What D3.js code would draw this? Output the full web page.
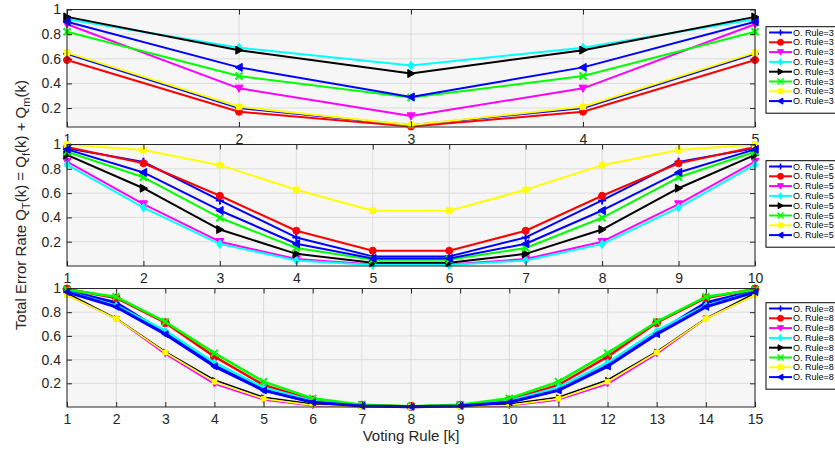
<!DOCTYPE html>
<html>
<head>
<meta charset="utf-8">
<script src="https://d3js.org/d3.v7.min.js"></script>
<style>
body { margin: 0; background: #fff; }
text { font-family: "Liberation Sans", Arial, sans-serif; }
</style>
</head>
<body>
<div id="mainer"></div>
<script>
let width = 835, height = 450;

// series look (same order in all three panels)
let colors = ['#0000ff', '#ff0000', '#ff00ff', '#00ffff', '#000000', '#00ff00', '#ffff00', '#0000ff'];
let markers = ['+', 'o', 'v', 'd', '>', 'x', 's', '<'];

let yTicks = [0.2, 0.4, 0.6, 0.8, 1];

// panel 1 : O. Rule=3
let k3 = [1, 2, 3, 4, 5];
let rule3 = [
  [0.64, 0.20, 0.060, 0.20, 0.64],
  [0.59, 0.17, 0.050, 0.17, 0.59],
  [0.88, 0.36, 0.135, 0.36, 0.88],
  [0.92, 0.69, 0.545, 0.69, 0.92],
  [0.94, 0.67, 0.480, 0.67, 0.94],
  [0.82, 0.46, 0.285, 0.46, 0.82],
  [0.65, 0.21, 0.063, 0.21, 0.65],
  [0.90, 0.53, 0.290, 0.53, 0.90]
];
let legend3 = ['O. Rule=3', 'O. Rule=3', 'O. Rule=3', 'O. Rule=3', 'O. Rule=3', 'O. Rule=3', 'O. Rule=3', 'O. Rule=3'];

// panel 2 : O. Rule=5
let k5 = [1, 2, 3, 4, 5, 6, 7, 8, 9, 10];
let rule5 = [
  [0.970, 0.857, 0.540, 0.235, 0.079, 0.079, 0.235, 0.540, 0.857, 0.970],
  [0.980, 0.846, 0.578, 0.290, 0.126, 0.126, 0.290, 0.578, 0.846, 0.980],
  [0.860, 0.510, 0.200, 0.057, 0.012, 0.012, 0.057, 0.200, 0.510, 0.860],
  [0.835, 0.480, 0.180, 0.046, 0.008, 0.008, 0.046, 0.180, 0.480, 0.835],
  [0.915, 0.640, 0.300, 0.100, 0.027, 0.027, 0.100, 0.300, 0.640, 0.915],
  [0.940, 0.730, 0.397, 0.148, 0.052, 0.052, 0.148, 0.397, 0.730, 0.940],
  [1.000, 0.955, 0.830, 0.627, 0.455, 0.455, 0.627, 0.830, 0.955, 1.000],
  [0.960, 0.770, 0.457, 0.183, 0.062, 0.062, 0.183, 0.457, 0.770, 0.960]
];
let legend5 = ['O. Rule=5', 'O. Rule=5', 'O. Rule=5', 'O. Rule=5', 'O. Rule=5', 'O. Rule=5', 'O. Rule=5', 'O. Rule=5'];

// panel 3 : O. Rule=8
let k8 = [1, 2, 3, 4, 5, 6, 7, 8, 9, 10, 11, 12, 13, 14, 15];
let rule8 = [
  [0.980, 0.880, 0.625, 0.350, 0.145, 0.042, 0.010, 0.003, 0.010, 0.042, 0.145, 0.350, 0.625, 0.880, 0.980],
  [0.996, 0.920, 0.711, 0.425, 0.186, 0.059, 0.015, 0.005, 0.015, 0.059, 0.186, 0.425, 0.711, 0.920, 0.996],
  [0.945, 0.745, 0.447, 0.194, 0.060, 0.010, 0.002, 0.001, 0.002, 0.010, 0.060, 0.194, 0.447, 0.745, 0.945],
  [0.975, 0.855, 0.644, 0.374, 0.165, 0.050, 0.012, 0.004, 0.012, 0.050, 0.165, 0.374, 0.644, 0.855, 0.975],
  [0.960, 0.748, 0.467, 0.228, 0.082, 0.025, 0.005, 0.001, 0.005, 0.025, 0.082, 0.228, 0.467, 0.748, 0.960],
  [0.990, 0.930, 0.720, 0.455, 0.214, 0.073, 0.020, 0.006, 0.020, 0.073, 0.214, 0.455, 0.720, 0.930, 0.990],
  [0.945, 0.745, 0.460, 0.214, 0.070, 0.015, 0.003, 0.001, 0.003, 0.015, 0.070, 0.214, 0.460, 0.745, 0.945],
  [0.970, 0.845, 0.615, 0.343, 0.140, 0.040, 0.009, 0.003, 0.009, 0.040, 0.140, 0.343, 0.615, 0.845, 0.970]
];
let legend8 = ['O. Rule=8', 'O. Rule=8', 'O. Rule=8', 'O. Rule=8', 'O. Rule=8', 'O. Rule=8', 'O. Rule=8', 'O. Rule=8'];

let panels = [
  {k: k3, data: rule3, names: legend3, top: 9.5, bottom: 127, ymin: 0.046, legendTop: 26.7,
   widths: [2, 2, 2, 2, 2, 2, 2, 2], msize: [4, 3.5, 4, 4, 4, 3.5, 3.5, 4]},
  {k: k5, data: rule5, names: legend5, top: 144.5, bottom: 266, ymin: 0, legendTop: 160.7,
   widths: [2, 2, 2, 2, 2, 2, 2, 2], msize: [4, 3.5, 4, 4, 4, 3.5, 3.5, 4]},
  {k: k8, data: rule8, names: legend8, top: 288.5, bottom: 407, ymin: 0, legendTop: 302.7,
   widths: [3, 2.5, 1.5, 2.5, 1.5, 2.5, 1.5, 3], msize: [3.5, 4, 3, 3.5, 2.5, 3.5, 3, 3.5]}
];

let left = 67, right = 755;

let svg = d3.select('#mainer')
  .append('svg')
  .attr('width', width)
  .attr('height', height);

function markerPath(m, s) {
  switch (m) {
    case '+': return `M${-s},0H${s}M0,${-s}V${s}`;
    case 'x': return `M${-s},${-s}L${s},${s}M${-s},${s}L${s},${-s}`;
    case 'o': return `M${s},0A${s},${s} 0 1,1 ${-s},0A${s},${s} 0 1,1 ${s},0Z`;
    case 'v': return `M${-s},${-s * 0.8}L${s},${-s * 0.8}L0,${s}Z`;
    case '>': return `M${-s * 0.8},${-s}L${s},0L${-s * 0.8},${s}Z`;
    case '<': return `M${s * 0.8},${-s}L${-s},0L${s * 0.8},${s}Z`;
    case 'd': return `M0,${-s * 1.1}L${s * 0.75},0L0,${s * 1.1}L${-s * 0.75},0Z`;
    case 's': return `M${-s * 0.8},${-s * 0.8}h${1.6 * s}v${1.6 * s}h${-1.6 * s}Z`;
  }
}
function isOpen(m) { return m === '+' || m === 'x'; }

panels.forEach(function (p) {
  let xScale = d3.scaleLinear().domain([p.k[0], p.k[p.k.length - 1]]).range([left, right]);
  let yScale = d3.scaleLinear().domain([p.ymin, 1]).range([p.bottom, p.top]);
  let g = svg.append('g');

  g.append('rect')
    .attr('x', left).attr('y', p.top)
    .attr('width', right - left).attr('height', p.bottom - p.top)
    .attr('fill', '#f6f6f6');

  // grid
  g.selectAll('.vgrid').data(p.k).enter().append('line')
    .attr('x1', d => xScale(d)).attr('x2', d => xScale(d))
    .attr('y1', p.top).attr('y2', p.bottom)
    .attr('stroke', '#dcdcdc').attr('stroke-width', 1);
  g.selectAll('.hgrid').data(yTicks).enter().append('line')
    .attr('x1', left).attr('x2', right)
    .attr('y1', d => yScale(d)).attr('y2', d => yScale(d))
    .attr('stroke', '#dcdcdc').attr('stroke-width', 1);

  let lineGenerator = d3.line()
    .x((d, i) => xScale(p.k[i]))
    .y(d => yScale(d));

  p.data.forEach(function (series, s) {
    g.append('path')
      .attr('d', lineGenerator(series))
      .attr('fill', 'none')
      .attr('stroke', colors[s])
      .attr('stroke-width', p.widths[s])
      .attr('stroke-linejoin', 'round');
    g.selectAll('.m' + s).data(series).enter().append('path')
      .attr('transform', (d, i) => `translate(${xScale(p.k[i])},${yScale(d)})`)
      .attr('d', markerPath(markers[s], p.msize[s]))
      .attr('fill', isOpen(markers[s]) ? 'none' : colors[s])
      .attr('stroke', colors[s])
      .attr('stroke-width', isOpen(markers[s]) ? 2 : 1);
  });

  // axes with inward ticks
  g.append('g')
    .attr('transform', `translate(0,${p.bottom})`)
    .call(d3.axisBottom(xScale).tickValues(p.k).tickFormat(d3.format('d')).tickSize(-5).tickPadding(7));
  g.append('g')
    .attr('transform', `translate(0,${p.top})`)
    .call(d3.axisTop(xScale).tickValues(p.k).tickFormat('').tickSize(-5));
  g.append('g')
    .attr('transform', `translate(${left},0)`)
    .call(d3.axisLeft(yScale).tickValues(yTicks).tickFormat(d3.format('')).tickSize(-5).tickPadding(6));
  g.append('g')
    .attr('transform', `translate(${right},0)`)
    .call(d3.axisRight(yScale).tickValues(yTicks).tickFormat('').tickSize(-5));

  g.selectAll('.domain').remove();
  g.selectAll('.tick line').attr('stroke', '#262626');
  g.selectAll('.tick text')
    .attr('fill', '#262626')
    .style('font-size', '14px')
    .style('font-family', '"Liberation Sans", Arial, sans-serif');

  g.append('rect')
    .attr('x', left).attr('y', p.top)
    .attr('width', right - left).attr('height', p.bottom - p.top)
    .attr('fill', 'none')
    .attr('stroke', '#262626')
    .attr('stroke-width', 1);

  // legend (box runs off the right edge like the original)
  let lg = svg.append('g').attr('transform', `translate(766,${p.legendTop})`);
  lg.append('rect')
    .attr('x', 0).attr('y', 0).attr('width', 100).attr('height', 86.5)
    .attr('fill', '#fff').attr('stroke', '#000').attr('stroke-width', 1);
  p.names.forEach(function (name, s) {
    let yy = 5.8 + s * 9.8;
    lg.append('line')
      .attr('x1', 3).attr('x2', 26).attr('y1', yy).attr('y2', yy)
      .attr('stroke', colors[s]).attr('stroke-width', 2);
    lg.append('path')
      .attr('transform', `translate(14.5,${yy})`)
      .attr('d', markerPath(markers[s], 3))
      .attr('fill', isOpen(markers[s]) ? 'none' : colors[s])
      .attr('stroke', colors[s])
      .attr('stroke-width', isOpen(markers[s]) ? 1.5 : 1);
    lg.append('text')
      .attr('x', 27).attr('y', yy).attr('dy', '0.35em')
      .attr('fill', '#000')
      .style('font-size', '9px')
      .text(name);
  });
});

// axis titles
svg.append('text')
  .attr('x', 411).attr('y', 441)
  .attr('text-anchor', 'middle')
  .attr('fill', '#262626')
  .style('font-size', '15px')
  .text('Voting Rule [k]');

let yl = svg.append('text')
  .attr('transform', 'translate(26,205) rotate(-90)')
  .attr('text-anchor', 'middle')
  .attr('fill', '#262626')
  .style('font-size', '15px');
yl.append('tspan').text('Total Error Rate Q');
yl.append('tspan').attr('dy', 4).style('font-size', '11px').text('T');
yl.append('tspan').attr('dy', -4).text('(k) = Q');
yl.append('tspan').attr('dy', 4).style('font-size', '11px').text('f');
yl.append('tspan').attr('dy', -4).text('(k) + Q');
yl.append('tspan').attr('dy', 4).style('font-size', '11px').text('m');
yl.append('tspan').attr('dy', -4).text('(k)');
</script>
</body>
</html>
